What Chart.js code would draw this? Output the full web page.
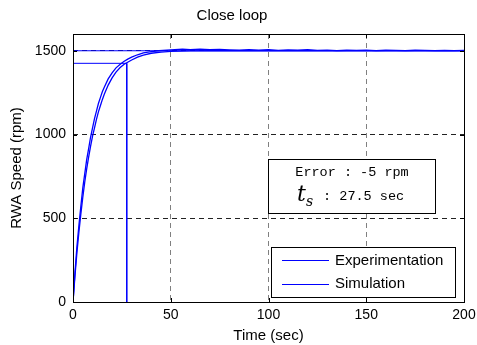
<!DOCTYPE html>
<html>
<head>
<meta charset="utf-8">
<script src="https://cdn.jsdelivr.net/npm/chart.js@4/dist/chart.umd.min.js"></script>
<style>
    html, body { margin: 0; padding: 0; background: #fff; }
    #wrap { width: 477px; height: 345px; }
</style>
</head>
<body>
<div id="wrap"><canvas id="chart" width="477" height="345"></canvas></div>
<script>
var expTime = [0, 1, 2, 3, 4, 5, 6, 7, 8, 9, 10, 11, 12, 13, 14, 15, 16, 18, 20, 22, 24, 26, 28, 30, 33, 36, 40, 44, 48, 52, 56, 60, 65, 70, 75, 80, 85, 90, 95, 100, 105, 110, 115, 120, 125, 130, 135, 140, 145, 150, 155, 160, 165, 170, 175, 180, 185, 190, 195, 200];
var expSpeed = [0, 175, 330, 455, 570, 680, 765, 850, 915, 985, 1040, 1095, 1140, 1185, 1220, 1255, 1282, 1332, 1368, 1398, 1418, 1436, 1450, 1462, 1476, 1487, 1495, 1500, 1504, 1506, 1509, 1507, 1510, 1506, 1508, 1505, 1503, 1507, 1504, 1506, 1502, 1505, 1503, 1506, 1502, 1504, 1501, 1503, 1502, 1504, 1501, 1503, 1502, 1501, 1503, 1502, 1501, 1502, 1501, 1502];

var simTime = [0, 1, 2, 3, 4, 5, 6, 7, 8, 9, 10, 11, 12, 13, 14, 15, 16, 18, 20, 22, 24, 26, 27.5, 30, 33, 36, 40, 45, 50, 55, 60, 70, 80, 100, 150, 200];
var simSpeed = [0, 155, 295, 415, 525, 625, 715, 795, 865, 930, 990, 1040, 1090, 1135, 1172, 1208, 1240, 1295, 1338, 1372, 1398, 1418, 1428, 1445, 1462, 1474, 1485, 1492, 1496, 1498, 1499, 1500, 1500, 1500, 1500, 1500];

var refSpeed = 1500;
var settleSpeed = 1425;
var settleTime = 27.5;
var errorText = "Error : -5 rpm";
var tsText = " : 27.5 sec";
var legendNames = ["Experimentation", "Simulation"];

var xTicks = [0, 50, 100, 150, 200];
var yTicks = [0, 500, 1000, 1500];

var blue = "#0000ff";

function pts(xs, ys) {
    return xs.map((x, i) => ({ x: x, y: ys[i] }));
}

// axes frame, inward ticks, info box and legend box
var framePlugin = {
    id: "frame",
    afterDraw(chart) {
        var ctx = chart.ctx;
        var a = chart.chartArea;
        var xs = chart.scales.x, ys = chart.scales.y;
        ctx.save();
        ctx.strokeStyle = "#000";
        ctx.lineWidth = 1;
        ctx.setLineDash([]);
        ctx.strokeRect(Math.round(a.left) + 0.5, Math.round(a.top) + 0.5, Math.round(a.right - a.left), Math.round(a.bottom - a.top));
        ctx.beginPath();
        xTicks.forEach(v => {
            var px = Math.round(xs.getPixelForValue(v)) + 0.5;
            ctx.moveTo(px, a.bottom); ctx.lineTo(px, a.bottom - 4);
            ctx.moveTo(px, a.top); ctx.lineTo(px, a.top + 4);
        });
        yTicks.forEach(v => {
            var py = Math.round(ys.getPixelForValue(v)) + 0.5;
            ctx.moveTo(a.left, py); ctx.lineTo(a.left + 4, py);
            ctx.moveTo(a.right, py); ctx.lineTo(a.right - 4, py);
        });
        ctx.stroke();

        // info box
        var bx = 268.5, by = 159.5, bw = 167, bh = 54;
        ctx.fillStyle = "#fff";
        ctx.fillRect(bx, by, bw, bh);
        ctx.strokeRect(bx, by, bw, bh);
        ctx.fillStyle = "#000";
        ctx.textBaseline = "middle";
        ctx.textAlign = "center";
        ctx.font = "13.5px 'Liberation Mono'";
        ctx.fillText(errorText, bx + bw / 2, by + 13);
        ctx.textAlign = "left";
        ctx.font = "italic 22px 'DejaVu Serif'";
        ctx.fillText("t", 297, by + 36);
        ctx.font = "italic 14px 'DejaVu Serif'";
        ctx.fillText("s", 306, by + 43);
        ctx.font = "13.5px 'Liberation Mono'";
        ctx.fillText(tsText, 315, by + 37);

        // legend box
        var lx = 271.5, ly = 247.5, lw = 184, lh = 50;
        ctx.fillStyle = "#fff";
        ctx.fillRect(lx, ly, lw, lh);
        ctx.strokeRect(lx, ly, lw, lh);
        ctx.font = "15px 'Liberation Sans'";
        ctx.fillStyle = "#000";
        legendNames.forEach((name, i) => {
            ctx.fillText(name, 335, Math.round(ly + 13 + i * 23));
        });
        legendNames.forEach((name, i) => {
            var yy = Math.round(ly + 12 + i * 24) + 0.5;
            ctx.beginPath();
            ctx.strokeStyle = blue;
            ctx.lineWidth = 1.2;
            ctx.moveTo(282, yy);
            ctx.lineTo(329, yy);
            ctx.stroke();
        });
        ctx.restore();
    }
};

new Chart(document.getElementById("chart"), {
    type: "line",
    data: {
        datasets: [
            { label: legendNames[0], data: pts(expTime, expSpeed), borderColor: blue, borderWidth: 1.3, pointRadius: 0, tension: 0 },
            { label: legendNames[1], data: pts(simTime, simSpeed), borderColor: blue, borderWidth: 1.3, pointRadius: 0, tension: 0 },
            { label: "ref", data: pts([0, 200], [refSpeed, refSpeed]), borderColor: blue, borderWidth: 1, pointRadius: 0 },
            { label: "settle", data: pts([0, settleTime, settleTime], [settleSpeed, settleSpeed, 0]), borderColor: blue, borderWidth: 1, pointRadius: 0 }
        ]
    },
    options: {
        responsive: false,
        animation: false,
        events: [],
        layout: { padding: { top: 0, right: 13, left: 0, bottom: 0 } },
        plugins: {
            legend: { display: false },
            tooltip: { enabled: false },
            title: {
                display: true,
                text: "Close loop",
                color: "#000",
                font: { family: "'Liberation Sans'", size: 15, weight: "normal" },
                padding: { top: 7, bottom: 9 }
            }
        },
        scales: {
            x: {
                type: "linear",
                min: 0, max: 200,
                afterBuildTicks: ax => { ax.ticks = xTicks.map(v => ({ value: v })); },
                afterFit: ax => { ax.height = 43; ax.paddingRight = 0; ax.paddingLeft = 0; },
                border: { display: false, dash: [5, 4] },
                grid: {
                    drawTicks: false,
                    color: ctx => (ctx.tick && (ctx.tick.value === 0 || ctx.tick.value === 200)) ? "rgba(0,0,0,0)" : "#808080",
                    lineWidth: 1
                },
                ticks: { color: "#000", padding: 5, maxRotation: 0, callback: v => String(v), font: { family: "'Liberation Sans'", size: 14 } },
                title: { display: true, text: "Time (sec)", color: "#000", padding: { top: 2, bottom: 0 }, font: { family: "'Liberation Sans'", size: 15 } }
            },
            y: {
                min: 0, max: 1600,
                afterBuildTicks: ax => { ax.ticks = yTicks.map(v => ({ value: v })); },
                afterFit: ax => { ax.width = 73; ax.paddingTop = 0; ax.paddingBottom = 0; },
                border: { display: false, dash: [5, 4] },
                grid: {
                    drawTicks: false,
                    color: ctx => (ctx.tick && ctx.tick.value === 0) ? "rgba(0,0,0,0)" : "#222",
                    lineWidth: 1
                },
                ticks: { color: "#000", padding: 7, callback: v => String(v), font: { family: "'Liberation Sans'", size: 14 } },
                title: { display: true, text: "RWA Speed (rpm)", color: "#000", padding: { top: 8, bottom: 0 }, font: { family: "'Liberation Sans'", size: 15 } }
            }
        }
    },
    plugins: [framePlugin]
});
</script>
</body>
</html>
